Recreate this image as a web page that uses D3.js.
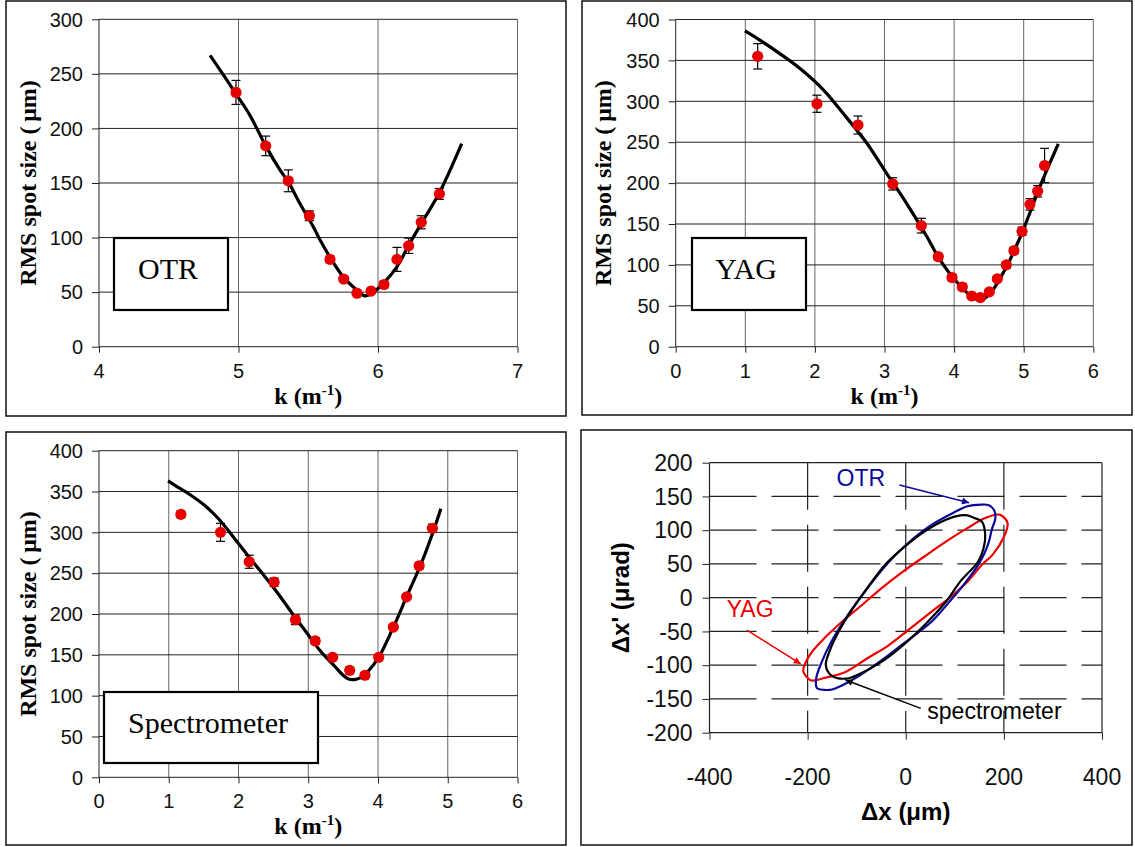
<!DOCTYPE html>
<html><head><meta charset="utf-8">
<script src="https://cdn.jsdelivr.net/npm/d3@7"></script>
<style>body{margin:0;background:#fff}svg{display:block}</style>
</head><body>
<svg id="c" width="1135" height="847"></svg>
<script>
// ---------- DATA ----------
// OTR scan
const otrK    = [4.982,5.195,5.357,5.508,5.656,5.754,5.849,5.950,6.043,6.136,6.220,6.310,6.440];
const otrSize = [233,184,152,120,80,62,49,51,57,80,92.5,114,140];
const otrErr  = [11,9,10,4.5,3,2.5,2,2,3,11,7,6,5];
const otrFitK    = [4.796,4.855,4.98,5.082,5.195,5.297,5.357,5.441,5.536,5.584,5.656,5.751,5.847,5.907,5.967,6.038,6.134,6.229,6.325,6.444,6.6];
const otrFitSize = [267,256,232,212,184,162,151,131,110,98,82,64,52,46.5,50,58,73,95,116,142,186];
// YAG scan
const yagK    = [1.178,2.03,2.619,3.118,3.529,3.773,3.97,4.118,4.253,4.377,4.506,4.621,4.75,4.86,4.976,5.09,5.2,5.3];
const yagSize = [355,297,271,199,148,110,84.5,73,62,60,67,83,100,117.5,141,174,190,221.5];
const yagErr  = [15.5,10.5,11,7.5,9,4,4,4,3,3,3,3,4,4,5,7,7,21];
const yagFitK    = [0.995,1.187,1.5,1.786,2.121,2.408,2.744,3.03,3.319,3.606,3.797,3.989,4.228,4.372,4.516,4.755,4.994,5.234,5.497];
const yagFitSize = [386,376,358,340,314,285,249,212,175,135,106,84,63,57,65,98,143,196,248];
// Spectrometer scan
const specK    = [1.174,1.742,2.154,2.51,2.817,3.10,3.35,3.594,3.813,4.01,4.22,4.41,4.59,4.78];
const specSize = [322,300,264,239,193,167,147,131,125,147,184,221,259,305];
const specErr  = [4,11,8,5,6,4,3,4,3,3,3,3,4,5];
const specFitK    = [0.99,1.10,1.29,1.50,1.71,1.92,2.13,2.34,2.55,2.76,2.97,3.18,3.38,3.50,3.59,3.68,3.75,3.85,4.01,4.21,4.42,4.63,4.84,4.9];
const specFitSize = [363,357,347,334,317,295,272,250,227,202,178,154,136,125,120,120,122,129,147,182,223,264,313,329];
// Phase-space ellipses (Δx in µm, Δx' in µrad)
const otrEllX = [154.9,169.5,180,182.6,175,169.5,160,147.6,118,89,52.6,8.8,-35,-93.5,-130,-150,-166.5,-181,-182.6,-174,-152,-122.7,-93.5,-57,-20.5,16,52.6,96.4,125.6];
const otrEllY = [138,137,130,118,100,83,65,48.6,19,-6,-35.7,-60.5,-85,-115,-130,-136,-136.5,-134,-120,-100,-65.5,-30.8,-1,33.7,63.5,88,108,125.6,135.5];
const specEllX = [111,125.6,140,155,162,158.5,147.6,111,81.8,38,-5.8,-49.7,-93.5,-122.7,-152,-163,-155.6,-137,-108,-79,-42.4,-5.8,38,81.8];
const specEllY = [122,122,118,113,93,73,53.6,23.8,-6,-40.7,-70.5,-95,-112.7,-120,-115,-100,-80,-50.6,-15.9,13.9,48.6,73.4,98,115.6];
const yagEllX = [162,191,207.5,198.7,176.8,154.9,125.6,96.4,52.6,8.8,-35,-78.9,-122.7,-166.5,-192,-204.5,-209,-195.8,-166.5,-130,-93.5,-49.7,-5.8,38,81.8,125.6];
const yagEllY = [118,123,110.7,88,63.5,48.6,23.8,4,-20.8,-45.7,-70.5,-90,-110,-119,-122.6,-115,-107.7,-85,-60.5,-35.7,-13.4,13.9,38.7,61,83,103];
// Tick labels
const otrXTicks = [4,5,6,7];
const otrYTicks = [0,50,100,150,200,250,300];
const k6Ticks = [0,1,2,3,4,5,6];
const y400Ticks = [0,50,100,150,200,250,300,350,400];
const psXTicks = [-400,-200,0,200,400];
const psYTicks = [-200,-150,-100,-50,0,50,100,150,200];

// ---------- DRAW ----------
const svg = d3.select('#c');
svg.append('rect').attr('width',1135).attr('height',847).attr('fill','#fff');

const SANS = "'Liberation Sans', Arial, sans-serif";
const SERIF = "'Liberation Serif', 'Times New Roman', serif";
const RED = '#e60000';

// panel frames
[[6,1,560,415],[582,1,550,414],[6,432,560,413],[581,430,551,415]].forEach(r=>{
  svg.append('rect').attr('x',r[0]).attr('y',r[1]).attr('width',r[2]).attr('height',r[3])
    .attr('fill','none').attr('stroke','#111').attr('stroke-width',1.5);
});

function scanPanel(o){
  const x = d3.scaleLinear().domain(o.xd).range(o.xr);
  const y = d3.scaleLinear().domain(o.yd).range(o.yr);
  const g = svg.append('g');
  o.xt.forEach(t=>{
    g.append('line').attr('x1',x(t)).attr('x2',x(t)).attr('y1',y(o.yd[0])).attr('y2',y(o.yd[1]))
      .attr('stroke', t===o.xd[0] ? '#222' : '#666').attr('stroke-width',1);
  });
  o.yt.forEach(t=>{
    g.append('line').attr('x1',x(o.xd[0])).attr('x2',x(o.xd[1])).attr('y1',y(t)).attr('y2',y(t))
      .attr('stroke', '#222').attr('stroke-width',1);
  });
  const ya = d3.axisLeft(y).tickValues(o.yt).tickSize(7).tickFormat('');
  g.append('g').attr('transform',`translate(${x(o.xd[0])},0)`).call(ya)
    .call(s=>{s.select('.domain').remove(); s.selectAll('line').attr('stroke','#222');});
  const xa = d3.axisBottom(x).tickValues(o.xt).tickSize(6).tickFormat('');
  g.append('g').attr('transform',`translate(0,${y(o.yd[0])})`).call(xa)
    .call(s=>{s.select('.domain').remove(); s.selectAll('line').attr('stroke','#222');});
  o.yt.forEach(t=>{
    g.append('text').attr('x',x(o.xd[0])-16).attr('y',y(t)).attr('dy','0.36em')
      .attr('text-anchor','end').attr('font-family',SANS).attr('font-size',20).attr('fill','#111').text(t);
  });
  o.xt.forEach(t=>{
    g.append('text').attr('x',x(t)).attr('y',y(o.yd[0])+31)
      .attr('text-anchor','middle').attr('font-family',SANS).attr('font-size',20).attr('fill','#111').text(t);
  });
  const line = d3.line().x(d=>x(d[0])).y(d=>y(d[1])).curve(d3.curveCatmullRom.alpha(0.5));
  g.append('path').datum(d3.zip(o.fitK,o.fitS)).attr('d',line)
    .attr('fill','none').attr('stroke','#000').attr('stroke-width',3.2).attr('stroke-linejoin','round');
  o.k.forEach((k,i)=>{
    const cx = x(k), y1 = y(o.s[i]+o.e[i]), y2 = y(o.s[i]-o.e[i]);
    g.append('line').attr('x1',cx).attr('x2',cx).attr('y1',y1).attr('y2',y2).attr('stroke','#000').attr('stroke-width',1.2);
    [y1,y2].forEach(yy=>g.append('line').attr('x1',cx-4.5).attr('x2',cx+4.5).attr('y1',yy).attr('y2',yy).attr('stroke','#000').attr('stroke-width',1.2));
  });
  g.selectAll('circle.m').data(d3.zip(o.k,o.s)).join('circle')
    .attr('cx',d=>x(d[0])).attr('cy',d=>y(d[1])).attr('r',5.6).attr('fill',RED);
  const xc = (o.xr[0]+o.xr[1])/2;
  const xt = g.append('text').attr('x',xc).attr('y',o.xTitleY).attr('text-anchor','middle')
    .attr('font-family',SERIF).attr('font-weight','bold').attr('font-size',24).attr('fill','#000');
  xt.append('tspan').text('k (m');
  xt.append('tspan').attr('font-size',15).attr('dy',-9).text('-1');
  xt.append('tspan').attr('dy',9).text(')');
  const yc = (o.yr[0]+o.yr[1])/2;
  g.append('text').attr('transform',`translate(${o.yTitleX},${yc}) rotate(-90)`).attr('text-anchor','middle')
    .attr('font-family',SERIF).attr('font-weight','bold').attr('font-size',24).attr('fill','#000')
    .text('RMS spot size (\u2009\u03bcm)');
  const b = o.box;
  g.append('rect').attr('x',b[0]).attr('y',b[1]).attr('width',b[2]).attr('height',b[3])
    .attr('fill','#fff').attr('stroke','#000').attr('stroke-width',2.2);
  g.append('text').attr('x',b[0]+b[2]/2-3).attr('y',b[1]+41).attr('text-anchor','middle')
    .attr('font-family',SERIF).attr('font-size',30).attr('fill','#000').text(o.label);
}

scanPanel({xd:[4,7], xr:[99,517.5], yd:[0,300], yr:[346.7,19.3], xt:otrXTicks, yt:otrYTicks,
  k:otrK, s:otrSize, e:otrErr, fitK:otrFitK, fitS:otrFitSize, xTitleY:404, yTitleX:36,
  box:[114,238,114,72], label:'OTR'});
scanPanel({xd:[0,6], xr:[675.7,1093.3], yd:[0,400], yr:[346.7,19.5], xt:k6Ticks, yt:y400Ticks,
  k:yagK, s:yagSize, e:yagErr, fitK:yagFitK, fitS:yagFitSize, xTitleY:404, yTitleX:611,
  box:[692,238,114,72], label:'YAG'});
scanPanel({xd:[0,6], xr:[99,517.5], yd:[0,400], yr:[777.3,450.7], xt:k6Ticks, yt:y400Ticks,
  k:specK, s:specSize, e:specErr, fitK:specFitK, fitS:specFitSize, xTitleY:834, yTitleX:36,
  box:[104,692,214,71], label:'Spectrometer'});

// ---------- Phase space panel ----------
(function(){
  const x = d3.scaleLinear().domain([-400,400]).range([709.5,1102]);
  const y = d3.scaleLinear().domain([-200,200]).range([732.7,462.7]);
  const g = svg.append('g');
  const GRID = '#222';
  psYTicks.forEach(t=>{
    const dashed = t!==-200 && t!==200;
    g.append('line').attr('x1',x(-400)).attr('x2',x(400)).attr('y1',y(t)).attr('y2',y(t))
      .attr('stroke',GRID).attr('stroke-width',1.2).attr('stroke-dasharray',dashed?'47,15':null);
  });
  psXTicks.forEach(t=>{
    const dashed = t!==-400 && t!==400;
    g.append('line').attr('x1',x(t)).attr('x2',x(t)).attr('y1',y(200)).attr('y2',y(-200))
      .attr('stroke',GRID).attr('stroke-width',1.2).attr('stroke-dasharray',dashed?'47,15':null);
  });
  g.append('g').attr('transform',`translate(${x(-400)},0)`)
    .call(d3.axisLeft(y).tickValues(psYTicks).tickSize(7).tickFormat(''))
    .call(s=>{s.select('.domain').remove(); s.selectAll('line').attr('stroke',GRID);});
  g.append('g').attr('transform',`translate(0,${y(-200)})`)
    .call(d3.axisBottom(x).tickValues(psXTicks).tickSize(7).tickFormat(''))
    .call(s=>{s.select('.domain').remove(); s.selectAll('line').attr('stroke',GRID);});
  psYTicks.forEach(t=>{
    g.append('text').attr('x',x(-400)-17).attr('y',y(t)).attr('dy','0.36em').attr('text-anchor','end')
      .attr('font-family',SANS).attr('font-size',23).attr('fill','#111').text(t);
  });
  psXTicks.forEach(t=>{
    g.append('text').attr('x',x(t)).attr('y',785).attr('text-anchor','middle')
      .attr('font-family',SANS).attr('font-size',23).attr('fill','#111').text(t);
  });
  g.append('text').attr('x',(x(-400)+x(400))/2).attr('y',820).attr('text-anchor','middle')
    .attr('font-family',SANS).attr('font-weight','bold').attr('font-size',24).attr('fill','#000')
    .text('\u0394x (\u03bcm)');
  g.append('text').attr('transform',`translate(629,${y(0)}) rotate(-90)`).attr('text-anchor','middle')
    .attr('font-family',SANS).attr('font-weight','bold').attr('font-size',24).attr('fill','#000')
    .text('\u0394x\' (\u03bcrad)');
  const line = d3.line().x(d=>x(d[0])).y(d=>y(d[1])).curve(d3.curveCatmullRomClosed.alpha(0.5));
  const ells = [[yagEllX,yagEllY,'#ee0000'],[otrEllX,otrEllY,'#0a0a9a'],[specEllX,specEllY,'#000']];
  ells.forEach(e=>{
    g.append('path').datum(d3.zip(e[0],e[1])).attr('d',line).attr('fill','none')
      .attr('stroke',e[2]).attr('stroke-width',2.2);
  });
  const defs = svg.append('defs');
  [['ah-b','#0a0a9a'],['ah-r','#ee0000'],['ah-k','#000']].forEach(m=>{
    defs.append('marker').attr('id',m[0]).attr('viewBox','0 0 10 10').attr('refX',10).attr('refY',5)
      .attr('markerWidth',9).attr('markerHeight',7).attr('markerUnits','userSpaceOnUse').attr('orient','auto')
      .append('path').attr('d','M0,0 L10,5 L0,10 z').attr('fill',m[1]);
  });
  const ann = [
    {t:'OTR', c:'#0a0a9a', tx:-141, ty:165, a:[-13,167,129,140.7], m:'ah-b'},
    {t:'YAG', c:'#ee0000', tx:-365, ty:-28, a:[-323.6,-47.9,-214,-98.2], m:'ah-r'},
    {t:'spectrometer', c:'#000', tx:44, ty:-179, a:[30.7,-163.9,-122.7,-122], m:'ah-k'}
  ];
  ann.forEach(a=>{
    g.append('line').attr('x1',x(a.a[0])).attr('y1',y(a.a[1])).attr('x2',x(a.a[2])).attr('y2',y(a.a[3]))
      .attr('stroke',a.c).attr('stroke-width',1.5).attr('marker-end',`url(#${a.m})`);
    g.append('text').attr('x',x(a.tx)).attr('y',y(a.ty)).attr('font-family',SANS).attr('font-size',23)
      .attr('fill',a.c).text(a.t);
  });
})();
</script>
</body></html>
